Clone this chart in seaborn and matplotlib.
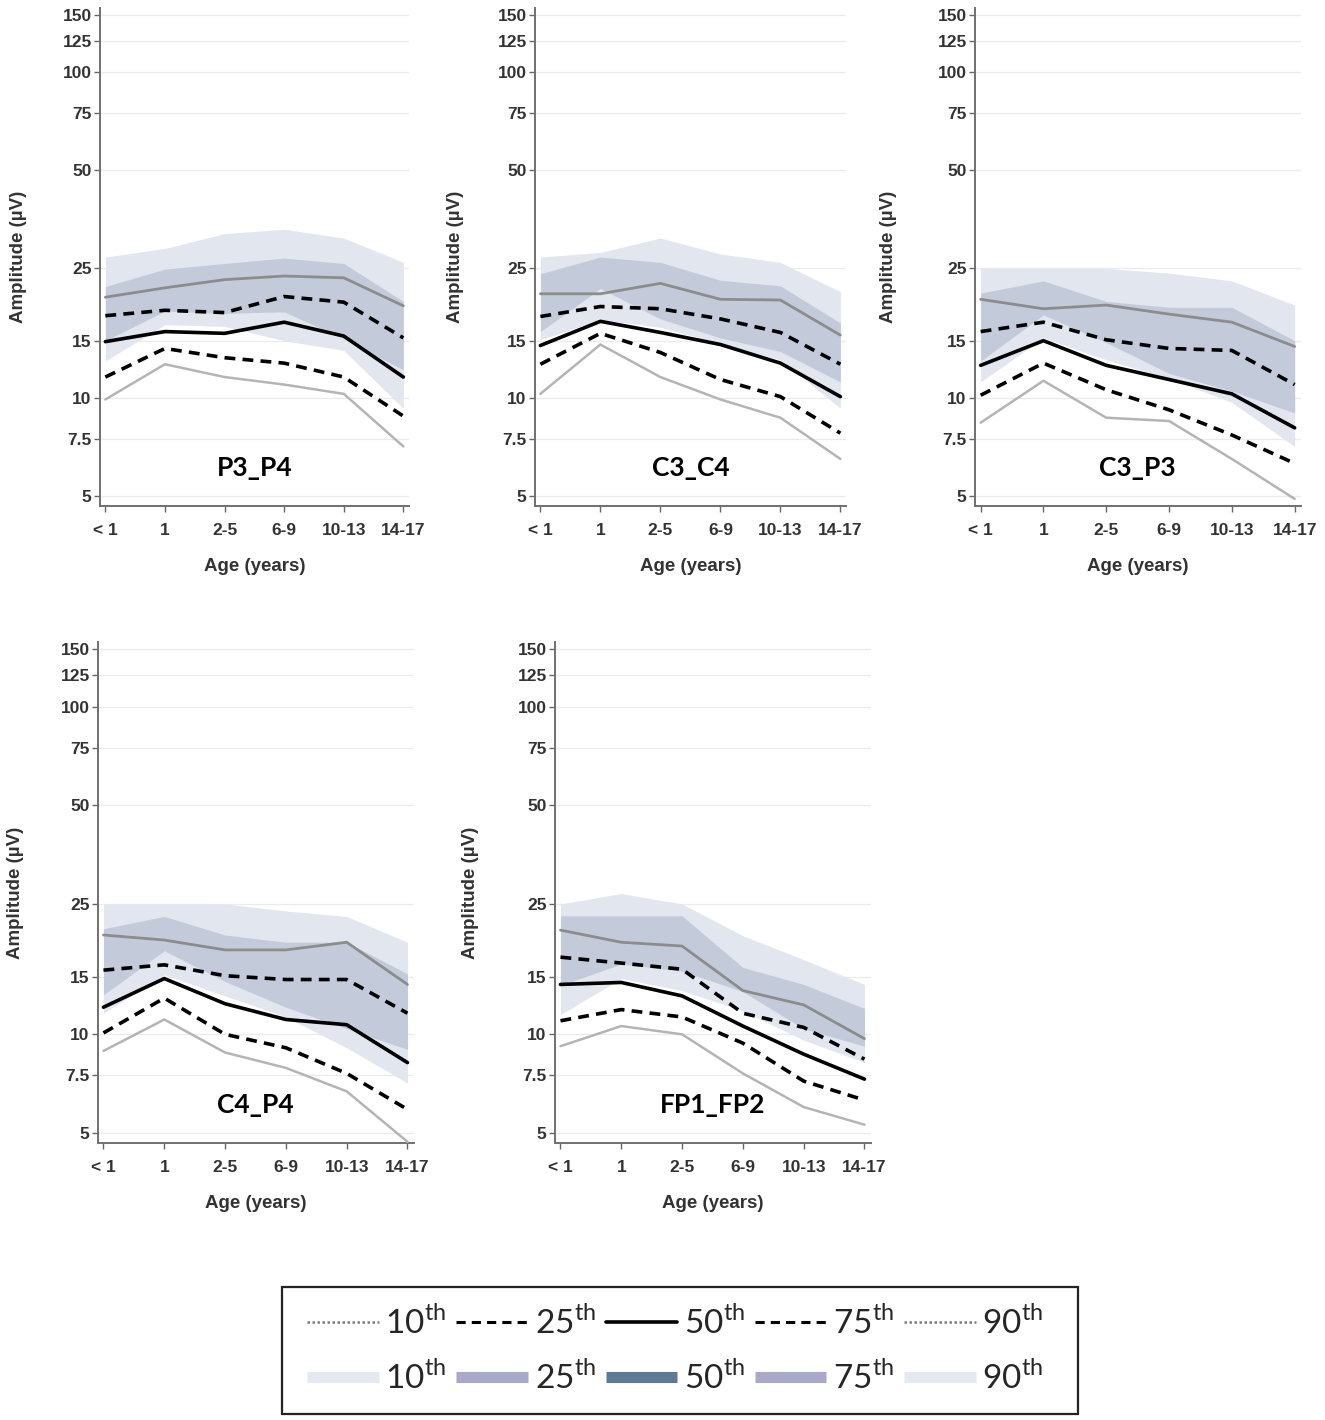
import numpy as np
import pandas as pd
import matplotlib
matplotlib.use('Agg')
import matplotlib.pyplot as plt
import seaborn as sns
from matplotlib.lines import Line2D
from matplotlib.patches import Rectangle
from matplotlib.ticker import NullLocator

sns.set_style('white')
plt.rcParams['font.family'] = ['Liberation Sans', 'DejaVu Sans']
plt.rcParams['mathtext.fontset'] = 'custom'
plt.rcParams['mathtext.rm'] = 'Lato'

ages = ['< 1', '1', '2-5', '6-9', '10-13', '14-17']
yticks = [5, 7.5, 10, 15, 25, 50, 75, 100, 125, 150]
ytick_labels = ['5', '7.5', '10', '15', '25', '50', '75', '100', '125', '150']
pct_names = ['10th', '25th', '50th', '75th', '90th']

# percentile lines per montage
p3p4_lines = {'10th': [9.9, 12.7, 11.6, 11.0, 10.3, 7.1],
              '25th': [11.6, 14.2, 13.3, 12.8, 11.6, 8.8],
              '50th': [14.9, 16.0, 15.8, 17.1, 15.5, 11.6],
              '75th': [17.9, 18.6, 18.3, 20.5, 19.7, 15.3],
              '90th': [20.4, 21.8, 23.1, 23.7, 23.4, 19.2]}
c3c4_lines = {'10th': [10.3, 14.6, 11.6, 9.9, 8.7, 6.5],
              '25th': [12.7, 15.8, 13.8, 11.4, 10.1, 7.8],
              '50th': [14.5, 17.2, 15.9, 14.6, 12.8, 10.1],
              '75th': [17.8, 19.1, 18.8, 17.5, 15.9, 12.7],
              '90th': [20.9, 20.9, 22.5, 20.1, 20.0, 15.6]}
c3p3_lines = {'10th': [8.4, 11.3, 8.7, 8.5, 6.5, 4.9],
              '25th': [10.2, 12.8, 10.6, 9.2, 7.7, 6.3],
              '50th': [12.6, 15.0, 12.6, 11.4, 10.3, 8.1],
              '75th': [16.0, 17.1, 15.1, 14.2, 14.0, 11.0],
              '90th': [20.1, 18.8, 19.3, 18.1, 17.1, 14.4]}
c4p4_lines = {'10th': [8.9, 11.1, 8.8, 7.9, 6.7, 4.7],
              '25th': [10.1, 12.9, 10.0, 9.1, 7.6, 5.9],
              '50th': [12.1, 14.8, 12.4, 11.1, 10.7, 8.2],
              '75th': [15.7, 16.3, 15.1, 14.7, 14.7, 11.6],
              '90th': [20.1, 19.4, 18.1, 18.1, 19.1, 14.2]}
fp1fp2_lines = {'10th': [9.2, 10.6, 10.0, 7.6, 6.0, 5.3],
                '25th': [11.0, 11.9, 11.3, 9.4, 7.2, 6.3],
                '50th': [14.2, 14.4, 13.1, 10.6, 8.7, 7.3],
                '75th': [17.2, 16.5, 15.8, 11.6, 10.5, 8.4],
                '90th': [20.8, 19.1, 18.6, 13.6, 12.3, 9.7]}

# shaded reference bands: outer low, inner low, inner high, outer high
p3p4_bands = [[13.0, 16.8, 16.6, 15.0, 14.0, 9.3],
              [15.0, 18.5, 18.2, 18.4, 15.2, 12.2],
              [22.0, 24.9, 25.9, 26.9, 25.9, 19.8],
              [27.1, 28.8, 32.0, 33.0, 31.0, 26.1]]
c3c4_bands = [[15.1, 17.4, 16.5, 14.7, 13.1, 9.3],
              [16.0, 21.7, 17.5, 15.3, 13.9, 11.2],
              [24.1, 27.1, 26.1, 23.0, 22.1, 17.0],
              [27.1, 28.0, 31.0, 27.7, 26.1, 21.2]]
c3p3_bands = [[11.2, 15.3, 13.1, 11.5, 9.7, 7.1],
              [13.0, 18.0, 14.8, 11.9, 10.5, 9.0],
              [21.0, 22.9, 19.8, 19.0, 19.0, 15.0],
              [25.0, 25.0, 25.0, 24.2, 22.9, 19.3]]
c4p4_bands = [[11.6, 15.2, 13.1, 11.3, 9.1, 7.1],
              [13.2, 18.0, 14.5, 12.1, 10.4, 9.0],
              [21.0, 22.9, 20.1, 19.1, 19.1, 15.3],
              [25.0, 25.0, 25.0, 23.8, 22.9, 19.1]]
fp1fp2_bands = [[11.5, 14.8, 13.6, 11.8, 9.6, 8.2],
                [14.1, 16.4, 15.6, 13.5, 10.4, 9.2],
                [23.0, 23.0, 23.0, 16.0, 14.2, 12.0],
                [25.0, 26.9, 25.0, 20.0, 16.9, 14.2]]

panels = [('P3_P4', p3p4_lines, p3p4_bands),
          ('C3_C4', c3c4_lines, c3c4_bands),
          ('C3_P3', c3p3_lines, c3p3_bands),
          ('C4_P4', c4p4_lines, c4p4_bands),
          ('FP1_FP2', fp1fp2_lines, fp1fp2_bands)]

# axes placement in pixels: left, bottom, tick spacing, k(px per ln unit), ylabel x
W, H = 1325, 1420
boxes = [(100, 506, 59.6, 141.4, 18),
         (535, 506, 60.0, 141.4, 455),
         (975, 506, 62.8, 141.4, 888),
         (98, 1143, 60.8, 142.3, 15),
         (555, 1143, 60.8, 142.3, 470)]
xlim = (-0.09, 5.1)
ylim = (4.66, 157.6)

line_style = {'10th': dict(color='#b4b4b4', lw=1.8, ls='-'),
              '25th': dict(color='black', lw=2.6, ls=(0, (3, 2))),
              '50th': dict(color='black', lw=2.6, ls='-'),
              '75th': dict(color='black', lw=2.6, ls=(0, (3, 2))),
              '90th': dict(color='#8c8c8c', lw=2.0, ls='-')}

fig = plt.figure(figsize=(W / 100, H / 100), dpi=100)
xpos = np.arange(len(ages))

for (name, lines, bands), (left, bottom, sp, k, ylx) in zip(panels, boxes):
    w = sp * (xlim[1] - xlim[0])
    h = k * np.log(ylim[1] / ylim[0])
    ax = fig.add_axes([left / W, (H - bottom) / H, w / W, h / H])
    ax.set_yscale('log')
    ax.set_xlim(*xlim)
    ax.set_ylim(*ylim)
    for yv in yticks:
        ax.axhline(yv, color='#ebebeb', lw=1.0, zorder=0)

    lo_o, lo_i, hi_i, hi_o = bands
    ax.fill_between(xpos, lo_o, hi_o, color='#e1e6ef', lw=0, zorder=1)
    ax.fill_between(xpos, lo_i, hi_i, color='#c3cbda', lw=0, zorder=2)

    df = pd.DataFrame(lines)
    df['x'] = xpos
    for p in pct_names:
        st = line_style[p]
        sns.lineplot(data=df, x='x', y=p, ax=ax, color=st['color'],
                     linewidth=st['lw'], linestyle=st['ls'], zorder=3)

    ax.set_yticks(yticks)
    ax.set_yticklabels(ytick_labels)
    ax.yaxis.set_minor_locator(NullLocator())
    ax.set_xticks(xpos)
    ax.set_xticklabels(ages)
    for lab in ax.get_xticklabels() + ax.get_yticklabels():
        lab.set_fontweight('bold')
        lab.set_color('#333333')
        lab.set_fontsize(12.5)
    ax.tick_params(axis='y', length=4, width=1, color='#666666', pad=2, left=True)
    ax.tick_params(axis='x', length=4, width=1, color='#666666', pad=8, bottom=True)

    for s in ['top', 'right']:
        ax.spines[s].set_visible(False)
    for s in ['left', 'bottom']:
        ax.spines[s].set_color('#707070')
        ax.spines[s].set_linewidth(1.4)

    ax.set_ylabel('Amplitude (µV)', fontsize=13.5, fontweight='bold', color='#333333')
    ax.yaxis.set_label_coords(-(left - ylx - 9) / w, 0.5)
    ax.set_xlabel('Age (years)', fontsize=13.5, fontweight='bold', color='#333333')
    ax.xaxis.set_label_coords(0.5, -52 / h)

    ax.text(2.5, 6.1, name, ha='center', va='center', fontsize=19,
            fontweight='bold', family=['Lato', 'DejaVu Sans'], color='black', zorder=4)

# legend
leg_font = 24
handles = []
labels = []
line_handles = [Line2D([], [], color='#7a7a7a', lw=1.8, ls=(0, (1, 1))),
                Line2D([], [], color='black', lw=2.2, ls=(0, (3, 2))),
                Line2D([], [], color='black', lw=2.6, ls='-'),
                Line2D([], [], color='black', lw=2.2, ls=(0, (3, 2))),
                Line2D([], [], color='#7a7a7a', lw=1.8, ls=(0, (1, 1)))]
band_colors = ['#e4e8f1', '#a9a8c8', '#5f7a95', '#a9a8c8', '#e4e8f1']
for lh, bc, p in zip(line_handles, band_colors, pct_names):
    handles.append(lh)
    labels.append(p[:2] + r'$^{\mathrm{th}}$')
    handles.append(Line2D([], [], color=bc, lw=8, solid_capstyle='butt'))
    labels.append(p[:2] + r'$^{\mathrm{th}}$')

fig.legend(handles, labels, ncol=5, loc='center left',
           bbox_to_anchor=(307 / W, 1 - 1350 / H), frameon=False,
           prop={'family': 'Lato', 'size': leg_font},
           handlelength=2.15, handletextpad=0.2, columnspacing=0.3,
           labelspacing=0.6, borderpad=0, borderaxespad=0)
fig.patches.append(Rectangle((282 / W, 1 - 1414 / H), (1078 - 282) / W, (1414 - 1287) / H,
                             transform=fig.transFigure, fill=False,
                             edgecolor='#222222', lw=1.6))

fig.savefig('out.png', dpi=100)
